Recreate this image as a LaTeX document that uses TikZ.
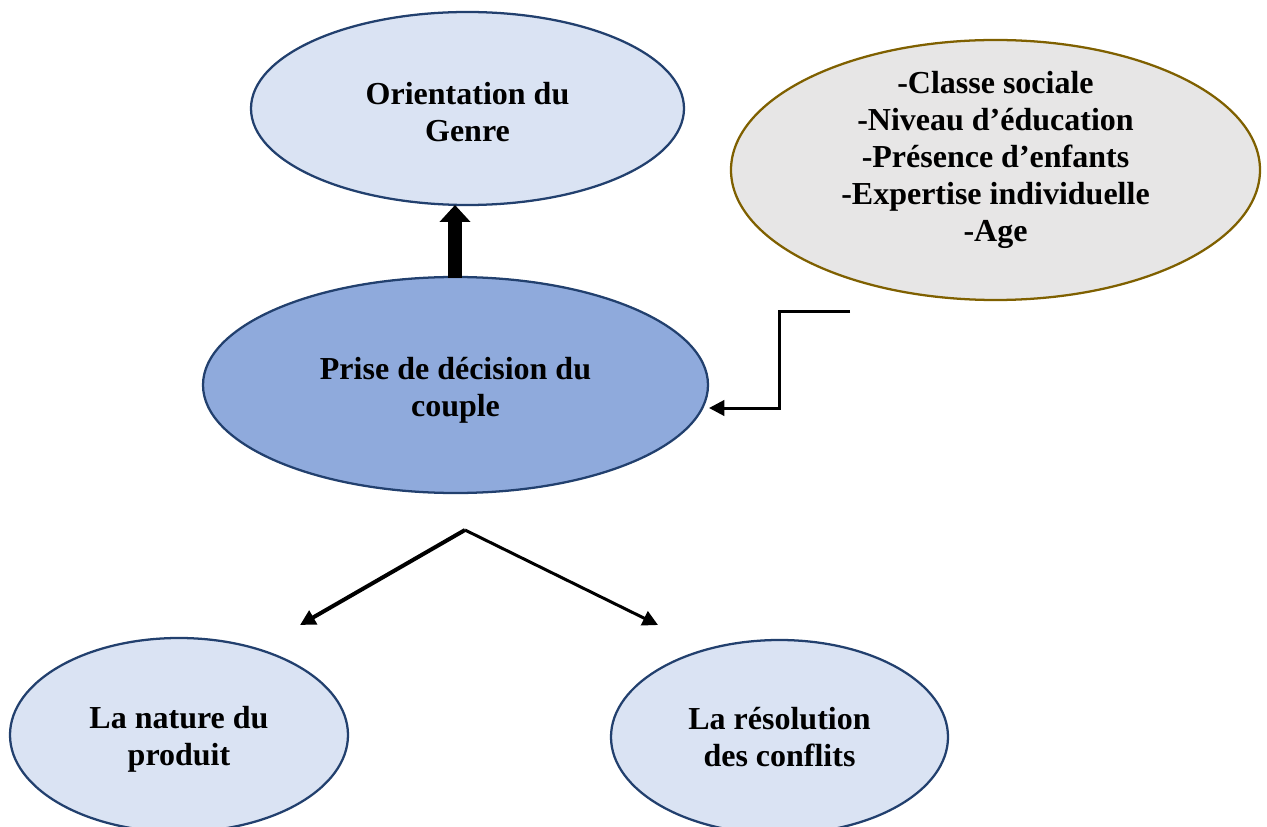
\documentclass[tikz,border=0pt]{standalone}
\usepackage{fontspec}
\setmainfont{Liberation Serif}
\usetikzlibrary{shapes.geometric,arrows.meta}
\definecolor{lightblue}{HTML}{DAE3F3}
\definecolor{midblue}{HTML}{8FAADC}
\definecolor{navyline}{HTML}{22406E}
\definecolor{greyfill}{HTML}{E7E6E6}
\definecolor{goldline}{HTML}{7F6000}
\tikzset{
  txt/.style={font=\fontsize{24}{27.75}\selectfont\bfseries, align=center, text=black, inner sep=0pt},
  bubble/.style={ellipse, draw=navyline, line width=1.7pt, inner sep=0pt, fill=lightblue},
  conn/.style={draw=black, line width=2.25pt, -{Triangle[width=11.5pt,length=11.5pt]}},
  bigarrow/.style={draw=black, line width=10.5pt, -{Triangle[width=22.5pt,length=12.75pt]}}
}
\begin{document}
\begin{tikzpicture}[x=0.75pt,y=-0.75pt]
\useasboundingbox (0,0) rectangle (1267,827);
\clip (0,0) rectangle (1267,827);
% ellipses
\node[bubble, minimum width=324.75pt, minimum height=144.75pt] (orient) at (467.5,108.5) {};
\node[txt] (orienttxt) at (467.5,112) {Orientation du\\Genre};
\node[ellipse, draw=goldline, fill=greyfill, line width=1.7pt, inner sep=0pt, minimum width=396.75pt, minimum height=195pt] (factors) at (995.5,170) {};
\node[txt] (factorstxt) at (995.5,160) {-Classe sociale\\-Niveau d’éducation\\-Présence d’enfants\\-Expertise individuelle\\-Age};
\node[bubble, fill=midblue, minimum width=378.75pt, minimum height=162pt] (prise) at (455.5,385) {};
\node[txt] (prisetxt) at (455.5,390) {Prise de décision du\\couple};
\node[bubble, minimum width=253.5pt, minimum height=145.5pt] (nature) at (179,735) {};
\node[txt] (naturetxt) at (179,739) {La nature du\\produit};
\node[bubble, minimum width=252.75pt, minimum height=145.5pt] (resol) at (779.5,737) {};
\node[txt] (resoltxt) at (779.5,737.5) {La résolution\\des conflits};
% thick arrow
\coordinate (bigstart) at (455,278);
\coordinate (bigend) at (455,205);
\draw[bigarrow] (bigstart) -- (bigend);
% elbow arrow
\coordinate (elbowstart) at (850,312);
\coordinate (elbowend) at (709,408);
\draw[conn] (elbowstart) -- (779,312) -- (779,408) -- (elbowend);
% split arrows
\coordinate (apex) at (465,530);
\coordinate (leftend) at (300,625);
\coordinate (rightend) at (658,625);
\draw[conn, line width=3pt] (apex) -- (leftend);
\draw[conn] (apex) -- (rightend);
\end{tikzpicture}
\end{document}
